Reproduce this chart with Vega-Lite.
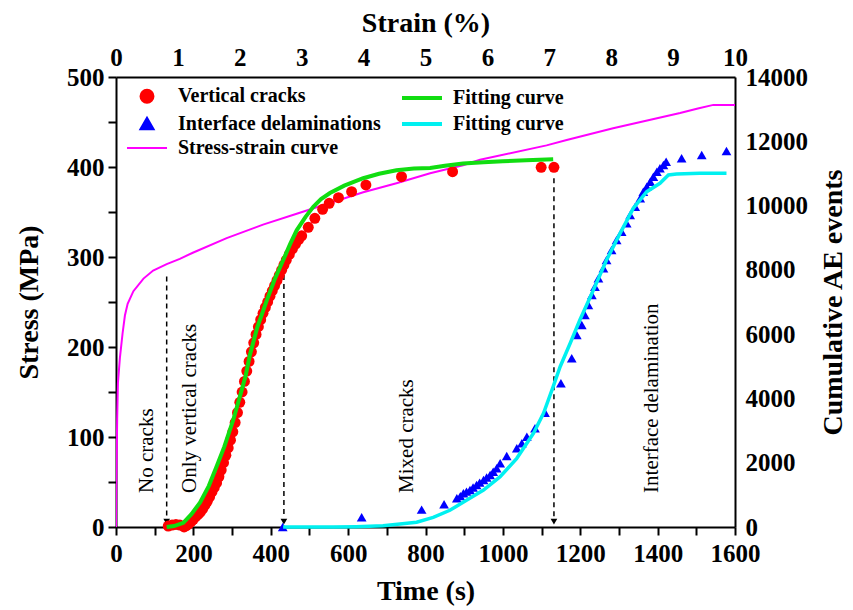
{
  "$schema": "https://vega.github.io/schema/vega-lite/v6.json",
  "width": 619,
  "height": 450,
  "autosize": {"type": "none"},
  "padding": {"left": 116, "top": 77, "right": 118, "bottom": 83},
  "background": "white",
  "config": {
    "view": {"stroke": null},
    "font": "Liberation Serif",
    "axis": {
      "domainColor": "black", "domainWidth": 2, "tickColor": "black", "tickWidth": 2,
      "labelFont": "Liberation Serif", "labelFontWeight": "bold", "labelFontSize": 25, "labelColor": "black",
      "titleFont": "Liberation Serif", "titleFontWeight": "bold", "titleFontSize": 28, "titleColor": "black",
      "grid": false, "labelFlush": false, "labelOverlap": false
    }
  },
  "datasets": {
    "stress_strain": [
      {"strain": 0, "stress": 0, "series": "Stress-strain curve"},
      {"strain": 0.006, "stress": 50, "series": "Stress-strain curve"},
      {"strain": 0.019, "stress": 120, "series": "Stress-strain curve"},
      {"strain": 0.031, "stress": 160, "series": "Stress-strain curve"},
      {"strain": 0.063, "stress": 188, "series": "Stress-strain curve"},
      {"strain": 0.106, "stress": 215, "series": "Stress-strain curve"},
      {"strain": 0.144, "stress": 235, "series": "Stress-strain curve"},
      {"strain": 0.188, "stress": 248, "series": "Stress-strain curve"},
      {"strain": 0.281, "stress": 262, "series": "Stress-strain curve"},
      {"strain": 0.444, "stress": 276, "series": "Stress-strain curve"},
      {"strain": 0.6, "stress": 285, "series": "Stress-strain curve"},
      {"strain": 0.819, "stress": 292, "series": "Stress-strain curve"},
      {"strain": 1.031, "stress": 298, "series": "Stress-strain curve"},
      {"strain": 1.25, "stress": 305, "series": "Stress-strain curve"},
      {"strain": 1.788, "stress": 321, "series": "Stress-strain curve"},
      {"strain": 2.375, "stress": 336, "series": "Stress-strain curve"},
      {"strain": 2.919, "stress": 348, "series": "Stress-strain curve"},
      {"strain": 3.456, "stress": 360, "series": "Stress-strain curve"},
      {"strain": 3.994, "stress": 372, "series": "Stress-strain curve"},
      {"strain": 4.531, "stress": 382, "series": "Stress-strain curve"},
      {"strain": 5.075, "stress": 393, "series": "Stress-strain curve"},
      {"strain": 5.606, "stress": 402, "series": "Stress-strain curve"},
      {"strain": 5.881, "stress": 408, "series": "Stress-strain curve"},
      {"strain": 6.956, "stress": 424, "series": "Stress-strain curve"},
      {"strain": 7.281, "stress": 430, "series": "Stress-strain curve"},
      {"strain": 8.031, "stress": 443, "series": "Stress-strain curve"},
      {"strain": 9.113, "stress": 460, "series": "Stress-strain curve"},
      {"strain": 9.4, "stress": 465, "series": "Stress-strain curve"},
      {"strain": 9.65, "stress": 469, "series": "Stress-strain curve"},
      {"strain": 10, "stress": 469, "series": "Stress-strain curve"}
    ],
    "cracks": [
      {"time": 135, "ae": 30}, {"time": 145, "ae": 60}, {"time": 155, "ae": 80}, {"time": 165, "ae": 60},
      {"time": 176, "ae": 0}, {"time": 182, "ae": 40}, {"time": 188, "ae": 100}, {"time": 194, "ae": 170},
      {"time": 200, "ae": 240}, {"time": 206, "ae": 320}, {"time": 212, "ae": 390}, {"time": 218, "ae": 460},
      {"time": 224, "ae": 560}, {"time": 230, "ae": 680}, {"time": 236, "ae": 800}, {"time": 242, "ae": 940},
      {"time": 248, "ae": 1090}, {"time": 254, "ae": 1230}, {"time": 260, "ae": 1370}, {"time": 266, "ae": 1560},
      {"time": 272, "ae": 1770}, {"time": 278, "ae": 2000}, {"time": 284, "ae": 2230}, {"time": 290, "ae": 2460},
      {"time": 296, "ae": 2700}, {"time": 302, "ae": 2960}, {"time": 308, "ae": 3250}, {"time": 314, "ae": 3560},
      {"time": 320, "ae": 3880}, {"time": 326, "ae": 4200}, {"time": 332, "ae": 4530}, {"time": 338, "ae": 4850},
      {"time": 344, "ae": 5150}, {"time": 350, "ae": 5450}, {"time": 356, "ae": 5730}, {"time": 362, "ae": 5990},
      {"time": 368, "ae": 6230}, {"time": 374, "ae": 6450}, {"time": 380, "ae": 6650}, {"time": 386, "ae": 6830},
      {"time": 392, "ae": 7000}, {"time": 398, "ae": 7180}, {"time": 404, "ae": 7350}, {"time": 410, "ae": 7510},
      {"time": 416, "ae": 7670}, {"time": 422, "ae": 7830}, {"time": 428, "ae": 7990}, {"time": 434, "ae": 8150},
      {"time": 440, "ae": 8300}, {"time": 448, "ae": 8480}, {"time": 456, "ae": 8650}, {"time": 464, "ae": 8800},
      {"time": 472, "ae": 8940}, {"time": 480, "ae": 9060},
      {"time": 497, "ae": 9324}, {"time": 514, "ae": 9604}, {"time": 534, "ae": 9884}, {"time": 551, "ae": 10070},
      {"time": 575, "ae": 10246}, {"time": 609, "ae": 10432}, {"time": 646, "ae": 10640}, {"time": 738, "ae": 10898},
      {"time": 870, "ae": 11054}, {"time": 1099, "ae": 11190}, {"time": 1132, "ae": 11190}
    ],
    "fit_cracks": [
      {"time": 131, "ae": 0}, {"time": 150, "ae": 30}, {"time": 174, "ae": 130}, {"time": 195, "ae": 400},
      {"time": 217, "ae": 760}, {"time": 240, "ae": 1280}, {"time": 260, "ae": 1880}, {"time": 280, "ae": 2500},
      {"time": 303, "ae": 3330}, {"time": 320, "ae": 4050}, {"time": 335, "ae": 4700}, {"time": 346, "ae": 5350},
      {"time": 365, "ae": 6200}, {"time": 390, "ae": 7060}, {"time": 410, "ae": 7700}, {"time": 432, "ae": 8300},
      {"time": 450, "ae": 8800}, {"time": 467, "ae": 9230}, {"time": 490, "ae": 9650}, {"time": 510, "ae": 9960},
      {"time": 530, "ae": 10200}, {"time": 553, "ae": 10390}, {"time": 590, "ae": 10620}, {"time": 639, "ae": 10850},
      {"time": 680, "ae": 10990}, {"time": 725, "ae": 11100}, {"time": 770, "ae": 11150}, {"time": 812, "ae": 11170},
      {"time": 850, "ae": 11240}, {"time": 897, "ae": 11310}, {"time": 950, "ae": 11350}, {"time": 1000, "ae": 11380},
      {"time": 1060, "ae": 11410}, {"time": 1130, "ae": 11440}
    ],
    "delam": [
      {"time": 431, "ae": 0}, {"time": 635, "ae": 302}, {"time": 790, "ae": 540}, {"time": 848, "ae": 710},
      {"time": 881, "ae": 893}, {"time": 890, "ae": 960}, {"time": 898, "ae": 1048}, {"time": 906, "ae": 1100},
      {"time": 915, "ae": 1151}, {"time": 923, "ae": 1230}, {"time": 932, "ae": 1307}, {"time": 940, "ae": 1380},
      {"time": 950, "ae": 1462}, {"time": 958, "ae": 1540}, {"time": 967, "ae": 1618}, {"time": 975, "ae": 1720},
      {"time": 984, "ae": 1826}, {"time": 993, "ae": 1981}, {"time": 1010, "ae": 2209}, {"time": 1036, "ae": 2448},
      {"time": 1049, "ae": 2604}, {"time": 1062, "ae": 2810}, {"time": 1083, "ae": 3070}, {"time": 1109, "ae": 3557},
      {"time": 1150, "ae": 4470}, {"time": 1178, "ae": 5248}, {"time": 1191, "ae": 5973}, {"time": 1204, "ae": 6284},
      {"time": 1212, "ae": 6595}, {"time": 1221, "ae": 6906}, {"time": 1230, "ae": 7218}, {"time": 1238, "ae": 7477},
      {"time": 1247, "ae": 7737}, {"time": 1260, "ae": 8048}, {"time": 1268, "ae": 8306}, {"time": 1281, "ae": 8617},
      {"time": 1294, "ae": 8928}, {"time": 1307, "ae": 9187}, {"time": 1320, "ae": 9447}, {"time": 1329, "ae": 9706},
      {"time": 1342, "ae": 9965}, {"time": 1355, "ae": 10226}, {"time": 1363, "ae": 10432}, {"time": 1372, "ae": 10588},
      {"time": 1381, "ae": 10743}, {"time": 1389, "ae": 10898}, {"time": 1398, "ae": 11054}, {"time": 1406, "ae": 11159},
      {"time": 1415, "ae": 11262}, {"time": 1422, "ae": 11366}, {"time": 1462, "ae": 11470}, {"time": 1514, "ae": 11573},
      {"time": 1578, "ae": 11700}
    ],
    "fit_delam": [
      {"time": 432, "ae": 0}, {"time": 500, "ae": 0}, {"time": 561, "ae": 0}, {"time": 620, "ae": 10},
      {"time": 690, "ae": 40}, {"time": 734, "ae": 90}, {"time": 777, "ae": 150}, {"time": 820, "ae": 300},
      {"time": 863, "ae": 520}, {"time": 907, "ae": 840}, {"time": 950, "ae": 1151}, {"time": 993, "ae": 1565},
      {"time": 1036, "ae": 2137}, {"time": 1079, "ae": 2915}, {"time": 1105, "ae": 3537}, {"time": 1130, "ae": 4365},
      {"time": 1148, "ae": 4987}, {"time": 1174, "ae": 5715}, {"time": 1199, "ae": 6440}, {"time": 1234, "ae": 7373},
      {"time": 1268, "ae": 8306}, {"time": 1303, "ae": 9136}, {"time": 1337, "ae": 9914}, {"time": 1372, "ae": 10432},
      {"time": 1406, "ae": 10692}, {"time": 1428, "ae": 10951}, {"time": 1449, "ae": 10982}, {"time": 1509, "ae": 11003},
      {"time": 1578, "ae": 11003}
    ],
    "markers": [
      {"time": 131, "top": 7790, "bottom": 300, "tip": 170},
      {"time": 434, "top": 7840, "bottom": 300, "tip": 170},
      {"time": 1132, "top": 10850, "bottom": 300, "tip": 170}
    ],
    "regions": [
      {"time": 79, "ae": 1060, "label": "No cracks"},
      {"time": 191, "ae": 1060, "label": "Only vertical cracks"},
      {"time": 751, "ae": 1060, "label": "Mixed cracks"},
      {"time": 1385, "ae": 1060, "label": "Interface delamination"}
    ]
  },
  "layer": [
    {
      "data": {"name": "stress_strain"},
      "mark": {"type": "line", "strokeWidth": 2, "clip": true},
      "encoding": {
        "x": {
          "field": "strain", "type": "quantitative",
          "scale": {"domain": [0, 10], "nice": false, "zero": false},
          "axis": {
            "orient": "top", "title": "Strain (%)", "format": "d",
            "values": [0, 0.5, 1, 1.5, 2, 2.5, 3, 3.5, 4, 4.5, 5, 5.5, 6, 6.5, 7, 7.5, 8, 8.5, 9, 9.5, 10],
            "labelExpr": "datum.value % 1 === 0 ? datum.label : ''",
            "tickSize": 0, "labelPadding": 7, "titlePadding": 8,
            "encode": {"ticks": {"update": {"y2": {"signal": "datum.value % 1 === 0 ? 8 : 5"}}}}
          }
        },
        "y": {
          "field": "stress", "type": "quantitative",
          "scale": {"domain": [0, 500], "nice": false},
          "axis": {
            "orient": "left", "title": "Stress (MPa)", "format": "d",
            "values": [0, 50, 100, 150, 200, 250, 300, 350, 400, 450, 500],
            "labelExpr": "datum.value % 100 === 0 ? datum.label : ''",
            "tickSize": 8, "labelPadding": 4, "titlePadding": 23,
            "encode": {"ticks": {"update": {"x2": {"signal": "datum.value % 100 === 0 ? -8 : -5"}}}}
          }
        },
        "color": {
          "field": "series", "type": "nominal",
          "scale": {
            "domain": ["Vertical cracks", "Interface delaminations", "Stress-strain curve", "Fitting curve (cracks)", "Fitting curve (delaminations)"],
            "range": ["#ff0000", "#0000ff", "#ff00ff", "#11dd11", "#00f0f0"]
          },
          "legend": {
            "orient": "none", "legendX": 21, "legendY": 9, "columns": 2, "title": null, "padding": 0,
            "labelExpr": "indexof(datum.label, 'Fitting') === 0 ? 'Fitting curve' : datum.label",
            "labelFont": "Liberation Serif", "labelFontWeight": "bold", "labelFontSize": 20, "labelColor": "black",
            "labelLimit": 0, "symbolSize": 110, "labelOffset": 21, "columnPadding": 13, "rowPadding": 1,
            "encode": {
              "symbols": {
                "update": {
                  "shape": {"signal": "datum.value === 'Vertical cracks' ? 'circle' : datum.value === 'Interface delaminations' ? 'triangle-up' : 'stroke'"},
                  "size": {"signal": "datum.value === 'Vertical cracks' ? 120 : datum.value === 'Interface delaminations' ? 95 : 1600"},
                  "fill": {"signal": "datum.value === 'Vertical cracks' ? '#ff0000' : datum.value === 'Interface delaminations' ? '#0000ff' : 'transparent'"},
                  "stroke": {"signal": "datum.value === 'Fitting curve (cracks)' ? '#11dd11' : datum.value === 'Fitting curve (delaminations)' ? '#00f0f0' : datum.value === 'Stress-strain curve' ? '#ff00ff' : 'transparent'"},
                  "strokeWidth": {"signal": "datum.value === 'Stress-strain curve' ? 2 : 4"},
                  "opacity": {"value": 1}
                }
              }
            }
          }
        }
      }
    },
    {
      "encoding": {
        "x": {
          "field": "time", "type": "quantitative",
          "scale": {"domain": [0, 1600], "nice": false},
          "axis": {
            "orient": "bottom", "title": "Time (s)", "format": "d",
            "values": [0, 100, 200, 300, 400, 500, 600, 700, 800, 900, 1000, 1100, 1200, 1300, 1400, 1500, 1600],
            "labelExpr": "datum.value % 200 === 0 ? datum.label : ''",
            "tickSize": 8, "labelPadding": 6, "titlePadding": 11,
            "encode": {"ticks": {"update": {"y2": {"signal": "datum.value % 200 === 0 ? 8 : 5"}}}}
          }
        },
        "y": {
          "field": "ae", "type": "quantitative",
          "scale": {"domain": [0, 14000], "nice": false},
          "axis": {
            "orient": "right", "title": "Cumulative AE events", "titleAngle": 270, "titleBaseline": "top",
            "values": [0, 1000, 2000, 3000, 4000, 5000, 6000, 7000, 8000, 9000, 10000, 11000, 12000, 13000, 14000],
            "labelExpr": "datum.value % 2000 === 0 ? datum.label : ''",
            "format": "d",
            "tickSize": 0, "labelPadding": 10, "titlePadding": 12,
            "encode": {"ticks": {"update": {"x2": {"signal": "datum.value % 2000 === 0 ? -8 : -5"}}}}
          }
        }
      },
      "layer": [
        {
          "data": {"name": "markers"},
          "mark": {"type": "rule", "strokeDash": [5, 4], "strokeWidth": 1.5, "color": "black"},
          "encoding": {
            "y": {"field": "top", "type": "quantitative"},
            "y2": {"field": "bottom"}
          }
        },
        {
          "data": {"name": "markers"},
          "mark": {"type": "point", "shape": "triangle-down", "filled": true, "size": 45, "color": "black", "opacity": 1},
          "encoding": {
            "y": {"field": "tip", "type": "quantitative"}
          }
        },
        {
          "data": {"name": "regions"},
          "mark": {"type": "text", "angle": 270, "align": "left", "baseline": "middle", "font": "Liberation Serif", "fontSize": 21, "color": "black"},
          "encoding": {
            "text": {"field": "label", "type": "nominal"}
          }
        },
        {
          "data": {"name": "cracks"},
          "transform": [{"calculate": "'Vertical cracks'", "as": "series"}],
          "mark": {"type": "point", "shape": "circle", "filled": true, "size": 120, "opacity": 1},
          "encoding": {"color": {"field": "series", "type": "nominal"}}
        },
        {
          "data": {"name": "fit_cracks"},
          "transform": [{"calculate": "'Fitting curve (cracks)'", "as": "series"}],
          "mark": {"type": "line", "strokeWidth": 4},
          "encoding": {"color": {"field": "series", "type": "nominal"}}
        },
        {
          "data": {"name": "delam"},
          "transform": [{"calculate": "'Interface delaminations'", "as": "series"}],
          "mark": {"type": "point", "shape": "triangle-up", "filled": true, "size": 95, "opacity": 1},
          "encoding": {"color": {"field": "series", "type": "nominal"}}
        },
        {
          "data": {"name": "fit_delam"},
          "transform": [{"calculate": "'Fitting curve (delaminations)'", "as": "series"}],
          "mark": {"type": "line", "strokeWidth": 3.5},
          "encoding": {"color": {"field": "series", "type": "nominal"}}
        }
      ]
    }
  ],
  "resolve": {"scale": {"x": "independent", "y": "independent"}}
}
